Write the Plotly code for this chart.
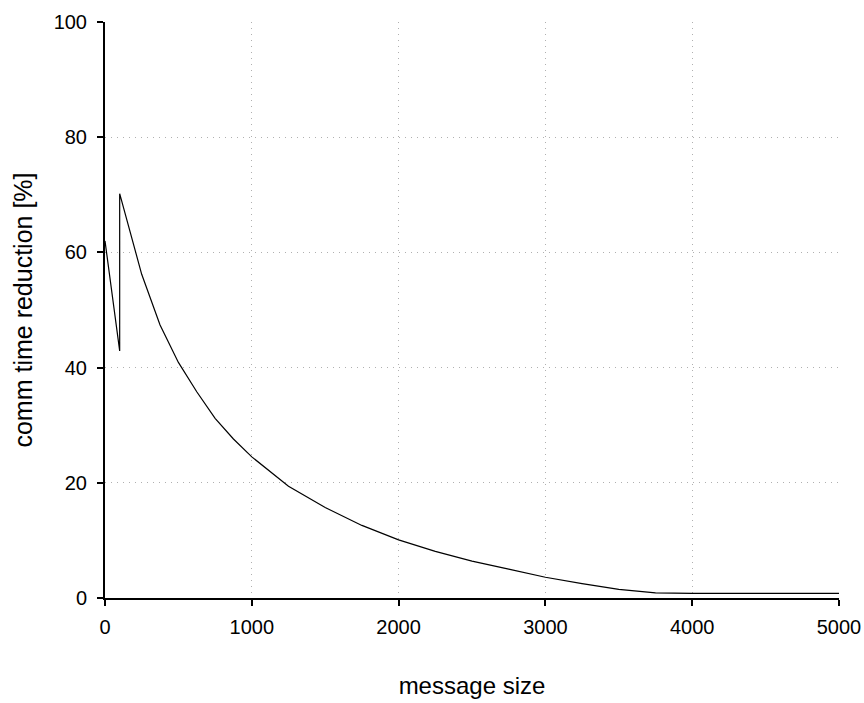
import plotly.graph_objects as go

message_size = [0, 100, 100, 250, 375, 500, 625, 750, 875, 1000, 1250, 1500, 1750, 2000,
                2250, 2500, 2750, 3000, 3250, 3500, 3750, 4000, 4500, 5000]
reduction = [62.0, 42.9, 70.2, 56.2, 47.4, 40.9, 35.8, 31.2, 27.6, 24.5, 19.4, 15.7, 12.6, 10.1,
             8.1, 6.4, 5.0, 3.6, 2.5, 1.5, 0.9, 0.8, 0.8, 0.8]

x_ticks = [0, 1000, 2000, 3000, 4000, 5000]
y_ticks = [0, 20, 40, 60, 80, 100]

fig = go.Figure()
fig.add_trace(go.Scatter(x=message_size, y=reduction, mode="lines",
                         line=dict(color="black", width=1.2), showlegend=False))

font = dict(family="Liberation Sans, Arial, sans-serif", size=20, color="black")
fig.update_layout(
    width=864, height=703,
    margin=dict(l=105, r=25, t=22, b=105, autoexpand=False),
    plot_bgcolor="white", paper_bgcolor="white",
    font=font,
)
fig.update_xaxes(
    range=[0, 5000], tickvals=x_ticks, ticks="outside", ticklen=6, tickwidth=2, tickcolor="black",
    ticklabelstandoff=4,
    showline=True, linecolor="black", linewidth=2,
    showgrid=True, gridcolor="#b0b0b0", gridwidth=1, griddash="1px,5px",
    zeroline=False, automargin=False,
    title=dict(text="message size", font=dict(size=24), standoff=40),
)
fig.update_yaxes(
    range=[0, 100], tickvals=y_ticks, ticks="outside", ticklen=6, tickwidth=2, tickcolor="black",
    ticklabelstandoff=6,
    showline=True, linecolor="black", linewidth=2,
    showgrid=True, gridcolor="#b0b0b0", gridwidth=1, griddash="1px,5px",
    zeroline=False, automargin=False,
    title=dict(text="comm time reduction [%]", font=dict(size=25), standoff=14),
)
fig.write_html("out.html", config={"displayModeBar": False},
               post_script="document.body.style.margin='0';document.body.style.overflow='hidden';")
